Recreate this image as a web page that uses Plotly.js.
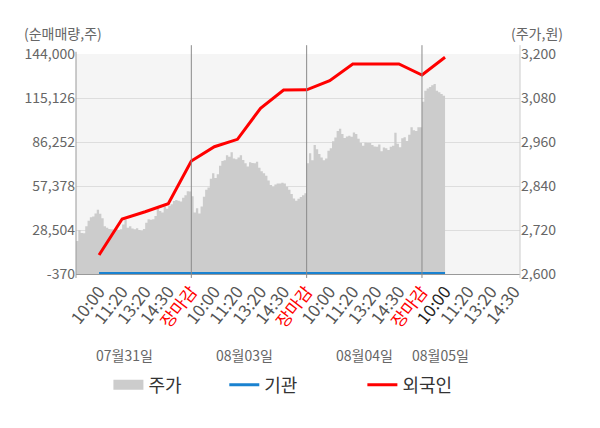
<!DOCTYPE html>
<html>
<head>
<meta charset="utf-8">
<script src="https://cdn.plot.ly/plotly-3.0.1.min.js"></script>
<style>
html,body{margin:0;padding:0;background:#fff;}
#chart{width:600px;height:428px;}
</style>
</head>
<body>
<div id="chart"></div>
<script>
// ---- data ----
const xTickLabels = ['10:00','11:20','13:20','14:30','장마감',
                     '10:00','11:20','13:20','14:30','장마감',
                     '10:00','11:20','13:20','14:30','장마감',
                     '10:00','11:20','13:20','14:30'];
const closeLabel = '장마감';
const currentTickIndex = 15;
const dateLabels = ['07월31일','08월03일','08월04일','08월05일'];

// 주가 (price, won) sampled through each trading day
const priceDay1 = [2690,2720,2712,2711,2730,2745,2755,2757,2765,2775,
                   2764,2752,2730,2726,2723,2722,2721,2723,2720,2722,
                   2735,2748,2726,2730,2724,2722,2725,2720,2718,2723,
                   2740,2749,2748,2749,2758,2779,2772,2768,2784,2778,
                   2786,2790,2799,2802,2800,2798,2808,2815,2826,2825];
const priceDay2 = [2812,2768,2779,2765,2784,2811,2830,2836,2860,2875,
                   2862,2872,2895,2908,2910,2924,2920,2932,2915,2913,
                   2918,2924,2911,2902,2893,2905,2903,2902,2906,2890,
                   2880,2875,2868,2855,2843,2838,2844,2847,2847,2849,
                   2847,2838,2830,2818,2806,2800,2805,2810,2815,2820];
const priceDay3 = [2902,2929,2910,2952,2940,2927,2918,2910,2915,2936,
                   2943,2962,2972,2990,2996,2982,2971,2975,2977,2974,
                   2986,2982,2969,2957,2950,2958,2957,2957,2952,2948,
                   2947,2953,2935,2945,2943,2938,2947,2950,2985,2955,
                   2946,2970,2973,2963,2980,3000,2992,2990,3000,3000];
const priceDay4 = [3070,3100,3106,3110,3115,3118,3100,3096,3091,3086];

// 순매매량 (cumulative net buying, shares) at each tick time
const foreignNet = [12100,35720,40500,45760,73780,83165,88020,108360,120370,120500,
                    126480,137430,137430,137430,130210,141830];
const instNet    = [0,0,0,0,0,0,0,0,0,0,0,0,0,0,0,0];

const volTicks = [-370,28504,57378,86252,115126,144000];
const priceTicks = [2600,2720,2840,2960,3080,3200];

// ---- build ----
const ticksPerDay = 5;
const samplesPerUnit = 10;
const days = [priceDay1, priceDay2, priceDay3, priceDay4];
let px = [], py = [];
days.forEach((arr, d) => {
  arr.forEach((v, k) => { px.push(d*ticksPerDay + k/samplesPerUnit); py.push(v); });
});
// close the last step
px.push(3*ticksPerDay + priceDay4.length/samplesPerUnit);
py.push(priceDay4[priceDay4.length-1]);

const netX = foreignNet.map((_, i) => i + 1);
const tickVals = xTickLabels.map((_, i) => i + 1);
const tickText = xTickLabels.map((t, i) => {
  if (t === closeLabel) return '<span style="color:#ff0000">' + t + '</span>';
  if (i === currentTickIndex) return '<span style="color:#222222">' + t + '</span>';
  return t;
});
const fmt = v => v.toLocaleString('en-US');

const font = '"Noto Sans CJK KR", "Noto Sans", sans-serif';

const traces = [
  {x: px, y: py, yaxis: 'y', type: 'scatter', mode: 'lines', name: '주가',
   line: {shape: 'hv', width: 0, color: '#cccccc'}, fill: 'tozeroy', fillcolor: '#cccccc',
   showlegend: false, hoverinfo: 'skip'},
  // legend proxy for the price area (box swatch)
  {x: [null], y: [null], yaxis: 'y', type: 'scatter', mode: 'lines', name: '주가',
   line: {width: 15, color: '#cccccc'}, legend: 'legend'},
  {x: netX, y: instNet, yaxis: 'y2', type: 'scatter', mode: 'lines', name: '기관',
   line: {width: 3, color: '#1a82d0'}, legend: 'legend2'},
  {x: netX, y: foreignNet, yaxis: 'y2', type: 'scatter', mode: 'lines', name: '외국인',
   line: {width: 3, color: '#ff0000'}, legend: 'legend3'}
];

const xRange = [0, 19.25];
const shapes = [];
[5,10,15].forEach(v => shapes.push({type:'line', xref:'x', yref:'paper', x0:v, x1:v, y0:-0.018, y1:1.04,
  line:{color:'#8a8a8a', width:1}}));
shapes.push({type:'line', xref:'paper', yref:'paper', x0:0, x1:0, y0:-0.018, y1:1.01, line:{color:'#999999', width:1}});
shapes.push({type:'line', xref:'paper', yref:'paper', x0:1, x1:1, y0:-0.018, y1:1.04, line:{color:'#cccccc', width:1}});

const dateX = [2.1, 7.3, 12.5, 15.8];
const annotations = dateLabels.map((t, i) => ({
  text: t, xref: 'x', yref: 'paper', x: dateX[i], y: -0.368, showarrow: false,
  font: {size: 14, color: '#666666', family: font}, xanchor: 'center', yanchor: 'middle'
}));
annotations.push({text:'(순매매량,주)', xref:'paper', yref:'paper', x:-0.121, y:1.095, xanchor:'left', yanchor:'middle',
  showarrow:false, font:{size:14, color:'#666666', family:font}});
annotations.push({text:'(주가,원)', xref:'paper', yref:'paper', x:0.976, y:1.095, xanchor:'left', yanchor:'middle',
  showarrow:false, font:{size:14, color:'#666666', family:font}});

const legendBase = {orientation:'h', yanchor:'middle', y:-0.505, xanchor:'left',
  font:{size:18, color:'#333333', family:font}, bgcolor:'rgba(0,0,0,0)', itemwidth:30};

const layout = {
  width: 600, height: 428,
  margin: {l: 76, r: 80, t: 54, b: 154},
  paper_bgcolor: '#ffffff', plot_bgcolor: '#f5f5f5',
  font: {family: font, color: '#666666'},
  showlegend: true,
  legend: Object.assign({}, legendBase, {x: 0.073}),
  legend2: Object.assign({}, legendBase, {x: 0.334}),
  legend3: Object.assign({}, legendBase, {x: 0.645}),
  xaxis: {range: xRange, tickvals: tickVals, ticktext: tickText, tickangle: -52,
    tickfont: {size: 17, color: '#555555', family: font}, showgrid: false, zeroline: false,
    showline: true, linecolor: '#999999', linewidth: 1, ticks: '', fixedrange: true},
  yaxis: {range: [priceTicks[0], priceTicks[priceTicks.length-1]], side: 'right',
    tickvals: priceTicks, ticktext: priceTicks.map(fmt), showgrid: false, zeroline: false,
    tickfont: {size: 14, color: '#666666', family: font}, ticks: '', fixedrange: true},
  yaxis2: {overlaying: 'y', side: 'left', range: [volTicks[0], volTicks[volTicks.length-1]],
    tickvals: volTicks, ticktext: volTicks.map(fmt), showgrid: true, gridcolor: '#dddddd',
    zeroline: true, zerolinecolor: '#aaaaaa', zerolinewidth: 1,
    tickfont: {size: 14, color: '#666666', family: font}, ticks: '', fixedrange: true},
  shapes: shapes,
  annotations: annotations
};

Plotly.newPlot('chart', traces, layout, {displayModeBar: false, staticPlot: true});
</script>
</body>
</html>
